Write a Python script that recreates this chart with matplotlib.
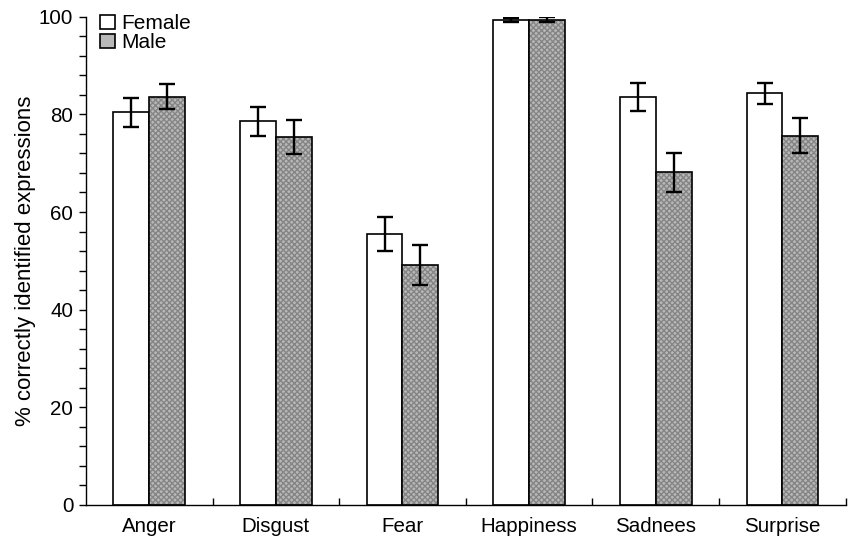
import numpy as np
import matplotlib
matplotlib.use('Agg')
import matplotlib.pyplot as plt
from matplotlib.patches import Patch

plt.rcParams['font.family'] = ['Liberation Sans', 'DejaVu Sans']

# Data
emotions = ['Anger', 'Disgust', 'Fear', 'Happiness', 'Sadnees', 'Surprise']
female = [80.4, 78.6, 55.5, 99.3, 83.5, 84.3]
female_err = [2.9, 3.0, 3.5, 0.4, 2.9, 2.2]
male = [83.6, 75.4, 49.2, 99.4, 68.1, 75.6]
male_err = [2.6, 3.5, 4.1, 0.5, 3.9, 3.6]

x = np.arange(len(emotions))
w = 0.283

fig = plt.figure(figsize=(8.5, 5.4), dpi=100)
ax = fig.add_axes([0.101, 0.065, 0.894, 0.904])

# female bars (white)
ax.bar(x - w / 2, female, w, color='white', edgecolor='black', linewidth=1.2, zorder=2)
# male bars: grey dither look, hatch drawn first then outline
ax.bar(x + w / 2, male, w, color='#b8b8b8', edgecolor='#858585', hatch='xxxxxx',
       linewidth=0, zorder=2)
ax.bar(x + w / 2, male, w, color='none', edgecolor='black', linewidth=1.2, zorder=3)

ax.errorbar(x - w / 2, female, yerr=female_err, fmt='none', ecolor='black',
            elinewidth=1.7, capsize=6, capthick=1.7, zorder=4)
ax.errorbar(x + w / 2, male, yerr=male_err, fmt='none', ecolor='black',
            elinewidth=1.7, capsize=6, capthick=1.7, zorder=4)

ax.set_xlim(-0.5, len(emotions) - 0.5)
ax.set_ylim(0, 100)
ax.spines['top'].set_visible(False)
ax.spines['right'].set_visible(False)
ax.spines['left'].set_linewidth(1.0)
ax.spines['bottom'].set_linewidth(1.0)

ax.set_yticks(np.arange(0, 101, 20))
ax.set_yticks(np.arange(0, 101, 4), minor=True)
ax.tick_params(axis='y', which='both', direction='out', length=5, width=1, labelsize=14.8,
               pad=4)

ax.set_xticks(x)
ax.set_xticklabels(emotions)
ax.set_xticks(np.arange(0.5, len(emotions) - 0.4, 1), minor=True)
ax.tick_params(axis='x', which='major', length=0, pad=9, labelsize=14.8)
ax.tick_params(axis='x', which='minor', direction='in', length=5, width=1)

ax.set_ylabel('% correctly identified expressions', fontsize=16, labelpad=2)

handles = [Patch(facecolor='white', edgecolor='black', linewidth=1.2),
           Patch(facecolor='#b8b8b8', edgecolor='black', linewidth=1.2)]
ax.legend(handles, ['Female', 'Male'], loc='upper left', bbox_to_anchor=(0.0, 1.035),
          frameon=False, fontsize=15, handlelength=0.72, handleheight=0.72,
          handletextpad=0.3, labelspacing=0.0, borderaxespad=0.3)

plt.savefig('out.png')
